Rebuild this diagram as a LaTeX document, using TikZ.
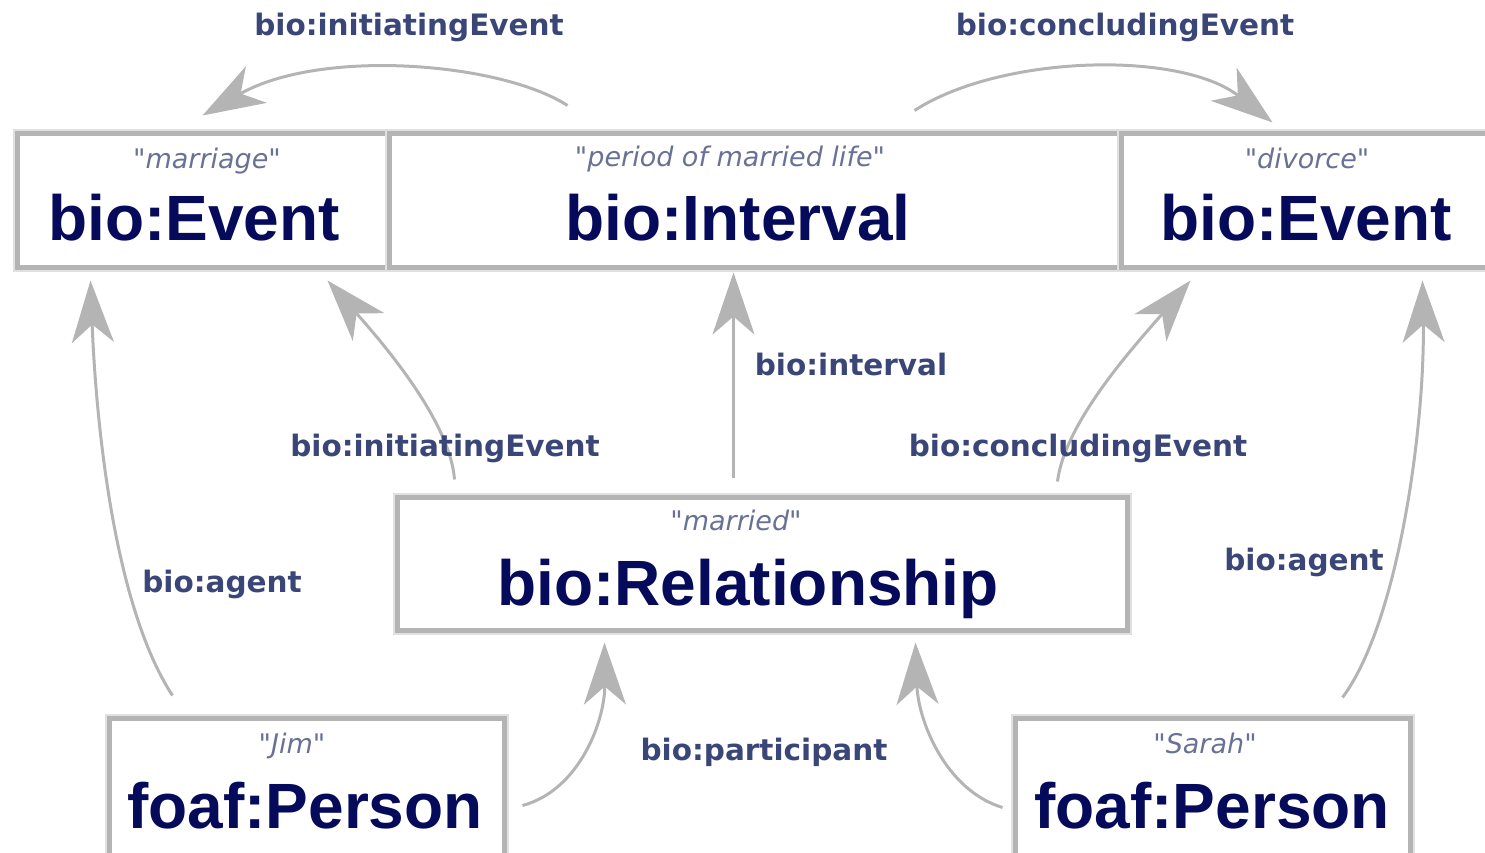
\documentclass[tikz,border=0pt]{standalone}
\usepackage{fontspec}
\usetikzlibrary{arrows.meta,calc}
\newfontfamily\bigf{Liberation Sans}
\newfontfamily\lblf{DejaVu Sans}
\newfontfamily\qf{DejaVu Sans}
\definecolor{navy}{RGB}{5,10,90}
\definecolor{lblc}{RGB}{58,70,120}
\definecolor{qc}{RGB}{105,114,148}
\definecolor{lin}{RGB}{180,180,180}
\definecolor{halo}{RGB}{224,224,224}
\tikzset{
  box/.style={draw=lin, line width=5pt, inner sep=0pt, fill=white,
    preaction={draw=halo, line width=9pt}},
  big/.style={anchor=base, inner sep=0pt, text=navy, font=\bigf\bfseries\fontsize{64}{70}\selectfont},
  qt/.style={anchor=base, inner sep=0pt, text=qc, font=\qf\itshape\fontsize{27}{30}\selectfont},
  lbl/.style={anchor=base, inner sep=0pt, text=lblc, font=\lblf\bfseries\fontsize{29.5}{32}\selectfont},
  arr/.style={draw=lin, line width=3pt, -{Stealth[length=62pt,width=42pt,inset=18pt]}}
}
\begin{document}
\begin{tikzpicture}[x=1pt,y=-1pt]
\useasboundingbox (0,0) rectangle (1485,852);
\clip (0,0) rectangle (1485,852);
% boxes
\node[box, minimum width=372pt, minimum height=134pt] (ev1) at (203,200) {};
\node[box, minimum width=732pt, minimum height=134pt] (mid) at (755,200) {};
\node[box, minimum width=379pt, minimum height=134pt] (ev2) at (1310.5,200) {};
\node[box, minimum width=730pt, minimum height=133pt] (rel) at (762,563.5) {};
\node[box, minimum width=395pt, minimum height=162pt] (jim) at (306.5,799) {};
\node[box, minimum width=395pt, minimum height=162pt] (sarah) at (1212.5,799) {};
% box texts
\node[qt] (ev1q) at (207,168) {"marriage"};
\node[big] (ev1t) at (194,240) {bio:Event};
\node[qt] (midq) at (730,166) {"period of married life"};
\node[big] (midt) at (738,240) {bio:Interval};
\node[qt] (ev2q) at (1307,168) {"divorce"};
\node[big] (ev2t) at (1306,240) {bio:Event};
\node[qt] (relq) at (736,530) {"married"};
\node[big] (relt) at (748,605) {bio:Relationship};
\node[qt] (jimq) at (292,753) {"Jim"};
\node[big] (jimt) at (305,828) {foaf:Person};
\node[qt] (sarq) at (1205,753) {"Sarah"};
\node[big] (sart) at (1212,828) {foaf:Person};
% connectors
\draw[arr] ($(mid.north west)+(181,-25)$) .. controls (500,62) and (320,48) .. ($(ev1.north west)+(188,-15)$);
\draw[arr] ($(mid.north east)+(-209,-20)$) .. controls (1000,55) and (1180,50) .. ($(ev2.north west)+(154,-8)$);
\draw[arr] ($(rel.north west)+(60,-15)$) .. controls (450,420) and (380,340) .. ($(ev1.south east)+(-64,11)$);
\draw[arr] ($(rel.north west)+(339,-17)$) -- ($(mid.south west)+(347,3)$);
\draw[arr] ($(rel.north west)+(663,-13)$) .. controls (1065,420) and (1140,340) .. ($(ev2.south west)+(72,11)$);
\draw[arr] ($(jim.north west)+(66,-20)$) .. controls (110,600) and (95,400) .. ($(ev1.south west)+(76,11)$);
\draw[arr] ($(jim.north east)+(16,90)$) .. controls (580,790) and (605,720) .. ($(rel.south west)+(210,10)$);
\draw[arr] ($(sarah.north west)+(-10,92)$) .. controls (945,790) and (918,720) .. ($(rel.south west)+(521,10)$);
\draw[arr] ($(sarah.north west)+(330,-18)$) .. controls (1400,620) and (1425,420) .. ($(ev2.south west)+(304,11)$);
% labels
\node[lbl] (l1) at (409,35) {bio:initiatingEvent};
\node[lbl] (l2) at (1125,35) {bio:concludingEvent};
\node[lbl] (l3) at (851,375) {bio:interval};
\node[lbl] (l4) at (445,456) {bio:initiatingEvent};
\node[lbl] (l5) at (1078,456) {bio:concludingEvent};
\node[lbl] (l6) at (222,592) {bio:agent};
\node[lbl] (l7) at (1304,570) {bio:agent};
\node[lbl] (l8) at (764,760) {bio:participant};
\end{tikzpicture}
\end{document}
